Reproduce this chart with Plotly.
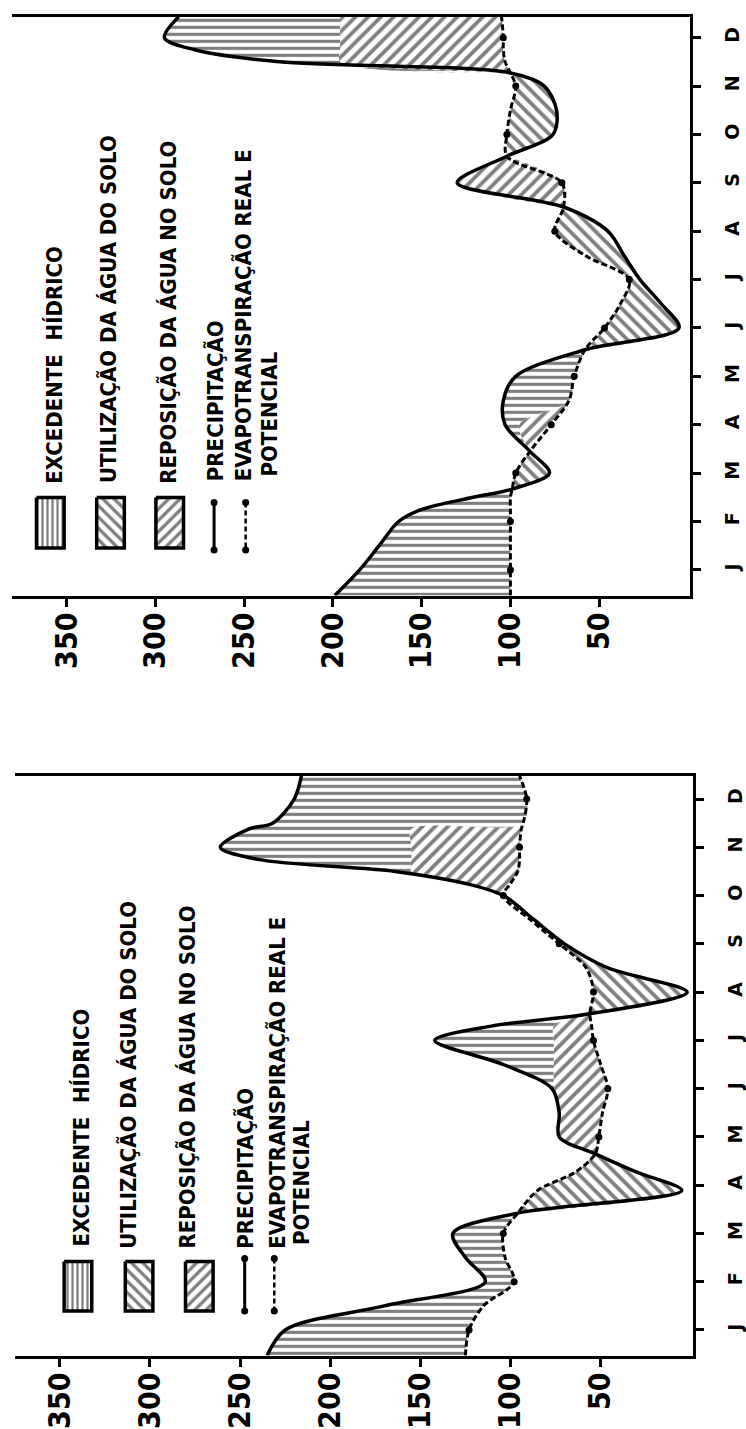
import numpy as np
import plotly.graph_objects as go

# ---- eixos ----
meses = ["J", "F", "M", "A", "M", "J", "J", "A", "S", "O", "N", "D"]
valores_eixo = [50, 100, 150, 200, 250, 300, 350]

# ---- painel superior (mm) ----
pos_sup = [-0.53, 0, 0.5, 1, 1.25, 1.5, 1.67, 2, 2.45, 3, 3.5, 4, 4.55, 5, 5.5,
           6, 6.5, 7, 7.5, 8, 8.55, 9, 9.5, 10, 10.27, 10.5, 10.75, 11, 11.43]
prec_sup = [199, 185, 174, 163, 150, 121, 99, 78, 89, 103, 104, 97, 58, 5, 15,
            27, 36, 45, 70, 130, 102, 76, 74, 81, 100, 230, 278, 295, 287]
etp_sup = [100, 100, 100, 100, 100, 100, 99, 97, 89, 77, 67, 64, 58, 47, 38,
           33, 58, 75, 70, 71, 102, 102, 100, 97, 100, 103, 104, 104, 105]
# limite superior da faixa de reposição (nan = sem reposição)
repos_sup = [np.nan] * 8 + [89, 95, 67, 64, 58] + [np.nan] * 5 + [70, 130, 102] + \
            [np.nan] * 3 + [196, 196, 196, 196, 196]

# ---- painel inferior (mm) ----
pos_inf = [-0.53, 0, 0.5, 1, 1.5, 2, 2.42, 2.89, 3.27, 3.65, 4, 4.5, 5, 5.5, 6,
           6.3, 6.55, 7, 7.5, 8, 8.5, 9, 9.25, 9.5, 9.75, 10, 10.38, 10.5, 11, 11.48]
prec_inf = [235, 225, 170, 114, 125, 132, 96, 5, 30, 53, 73, 73, 77, 104, 142,
            110, 56, 2, 46, 70, 87, 104, 125, 164, 240, 261, 245, 232, 220, 216]
etp_inf = [125, 123, 115, 98, 103, 104, 96, 85, 64, 53, 51, 49, 46, 50, 54,
           55, 56, 54, 58, 73, 89, 104, 100, 96, 95, 95, 94, 93, 91, 95]
repos_inf = [np.nan] * 9 + [76, 76, 76, 76, 76, 76, 76, 76] + [np.nan] * 4 + \
            [155, 155, 155, 155, 155, 155] + [np.nan] * 3

PAD = {
    "excedente": dict(shape="-", size=7, solidity=0.45),
    "utilizacao": dict(shape="\\", size=9, solidity=0.42),
    "reposicao": dict(shape="/", size=9, solidity=0.42),
}

fig = go.Figure()


def faixa(xa, xb, y, cat, xr, yr):
    fig.add_trace(go.Scatter(x=xa, y=y, mode="lines", xaxis=xr, yaxis=yr,
                             line=dict(width=0, shape="spline", smoothing=0.9),
                             hoverinfo="skip", showlegend=False))
    fig.add_trace(go.Scatter(x=xb, y=y, mode="lines", xaxis=xr, yaxis=yr,
                             fill="tonextx", fillcolor="white",
                             fillpattern=dict(fgcolor="black", bgcolor="white", **PAD[cat]),
                             line=dict(width=0, shape="spline", smoothing=0.9),
                             hoverinfo="skip", showlegend=False))


def painel(pos, prec, etp, repos, xr, yr):
    pos, prec, etp, repos = map(lambda a: np.asarray(a, float), (pos, prec, etp, repos))
    dif = prec - etp
    nos = sorted(set([0, len(pos) - 1] + [k for k in range(len(pos)) if dif[k] == 0]))
    for a, b in zip(nos[:-1], nos[1:]):
        s = slice(a, b + 1)
        d = dif[s]
        if d[d != 0].mean() < 0:
            faixa(prec[s], etp[s], pos[s], "utilizacao", xr, yr)
        else:
            r = repos[s]
            corte = np.where(np.isnan(r), etp[s], np.maximum(np.minimum(prec[s], r), etp[s]))
            if (corte > etp[s]).any():
                faixa(etp[s], corte, pos[s], "reposicao", xr, yr)
            if (prec[s] > corte).any():
                faixa(corte, prec[s], pos[s], "excedente", xr, yr)
    fig.add_trace(go.Scatter(x=etp, y=pos, mode="lines", xaxis=xr, yaxis=yr,
                             line=dict(color="black", width=3, dash="6px,3px",
                                       shape="spline", smoothing=0.9),
                             hoverinfo="skip", showlegend=False))
    inteiros = np.isclose(pos, np.round(pos)) & (pos >= 0)
    fig.add_trace(go.Scatter(x=etp[inteiros], y=pos[inteiros], mode="markers",
                             xaxis=xr, yaxis=yr, marker=dict(color="black", size=7),
                             hoverinfo="skip", showlegend=False))
    fig.add_trace(go.Scatter(x=prec, y=pos, mode="lines", xaxis=xr, yaxis=yr,
                             line=dict(color="black", width=3.5, shape="spline", smoothing=0.9),
                             hoverinfo="skip", showlegend=False))


painel(pos_sup, prec_sup, etp_sup, repos_sup, "x", "y")
painel(pos_inf, prec_inf, etp_inf, repos_inf, "x2", "y2")

# ---- legendas (coordenadas de página em px) ----
W, H = 746, 1429
legendas = {
    "sup": dict(cx=[51, 112, 172], y0=502, y1=553, lx=[217, 249], ly=(507, 555),
                tx=[55, 110, 170, 218, 247, 273], tb=[490, 490, 490, 488, 488, 483]),
    "inf": dict(cx=[79, 141, 202], y0=1273, y1=1323, lx=[248, 278], ly=(1270, 1323),
                tx=[83, 130, 190, 248, 281, 305], tb=[1260, 1262, 1262, 1262, 1262, 1258]),
}
textos = ["EXCEDENTE  HÍDRICO", "UTILIZAÇÃO DA ÁGUA DO SOLO", "REPOSIÇÃO DA ÁGUA NO SOLO",
          "PRECIPITAÇÃO", "EVAPOTRANSPIRAÇÃO REAL E", "POTENCIAL"]
cats_leg = ["excedente", "utilizacao", "reposicao"]
pad_leg = {"excedente": dict(shape="|", size=5, solidity=0.45),
           "utilizacao": dict(shape="\\", size=8, solidity=0.4),
           "reposicao": dict(shape="/", size=8, solidity=0.4)}
fonte_leg = dict(family="Liberation Sans Narrow, Arial Narrow, DejaVu Sans Condensed, sans-serif",
                 size=22, color="black", weight="bold")
anots = []
for L in legendas.values():
    for cx, cat in zip(L["cx"], cats_leg):
        x0, x1 = cx - 14, cx + 14
        fig.add_trace(go.Scatter(x=[x0, x1, x1, x0, x0], y=[L["y0"], L["y0"], L["y1"], L["y1"], L["y0"]],
                                 mode="lines", xaxis="x3", yaxis="y3", fill="toself", fillcolor="white",
                                 fillpattern=dict(fgcolor="black", bgcolor="white", **pad_leg[cat]),
                                 line=dict(color="black", width=3.5), hoverinfo="skip", showlegend=False))
    a, b = L["ly"]
    fig.add_trace(go.Scatter(x=[L["lx"][0]] * 2, y=[a, b], mode="lines+markers", xaxis="x3", yaxis="y3",
                             line=dict(color="black", width=3), marker=dict(size=7, color="black"),
                             hoverinfo="skip", showlegend=False))
    fig.add_trace(go.Scatter(x=[L["lx"][1]] * 2, y=[a, b], mode="lines+markers", xaxis="x3", yaxis="y3",
                             line=dict(color="black", width=2.5, dash="5px,3px"),
                             marker=dict(size=7, color="black"),
                             hoverinfo="skip", showlegend=False))
    for t, x, yb in zip(textos, L["tx"], L["tb"]):
        anots.append(dict(text=t, x=x, y=yb, xref="x3", yref="y3", xanchor="center", yanchor="bottom",
                          textangle=-90, showarrow=False, font=fonte_leg))

fonte_val = dict(family="Liberation Sans Narrow, Arial Narrow, DejaVu Sans Condensed, sans-serif",
                 size=30, color="black", weight="bold")
fonte_mes = dict(family="DejaVu Sans", size=19, color="black", weight="bold")

eixo_val = dict(tickvals=valores_eixo, ticktext=[str(v) for v in valores_eixo], tickangle=-90,
                showline=True, linecolor="black", linewidth=3, mirror=True, ticks="outside",
                ticklen=8, tickwidth=2.5, tickcolor="black", showgrid=False, zeroline=False,
                tickfont=fonte_val, ticklabelstandoff=-6, fixedrange=True)
eixo_mes = dict(tickvals=list(range(12)), ticktext=meses, tickangle=-90, side="right",
                showline=True, linecolor="black", linewidth=3, ticks="outside", ticklen=8,
                tickwidth=2.5, tickcolor="black", showgrid=False, zeroline=False,
                tickfont=fonte_mes, ticklabelstandoff=16, fixedrange=True)

fig.update_layout(
    width=W, height=H, margin=dict(l=0, r=0, t=0, b=0),
    paper_bgcolor="white", plot_bgcolor="rgba(0,0,0,0)", showlegend=False,
    xaxis=dict(domain=[12 / W, 699 / W], range=[381, -1], anchor="y", **eixo_val),
    yaxis=dict(domain=[1 - 601 / H, 1 - 17 / H], range=[-0.53, 11.43], anchor="x", **eixo_mes),
    xaxis2=dict(domain=[15 / W, 702 / W], range=[375, -1], anchor="y2", **eixo_val),
    yaxis2=dict(domain=[1 - 1368 / H, 1 - 783 / H], range=[-0.53, 11.48], anchor="x2", **eixo_mes),
    xaxis3=dict(domain=[0, 1], range=[0, W], anchor="y3", visible=False, fixedrange=True),
    yaxis3=dict(domain=[0, 1], range=[H, 0], anchor="x3", visible=False, fixedrange=True),
    annotations=anots,
)

fig.write_html("out.html")
